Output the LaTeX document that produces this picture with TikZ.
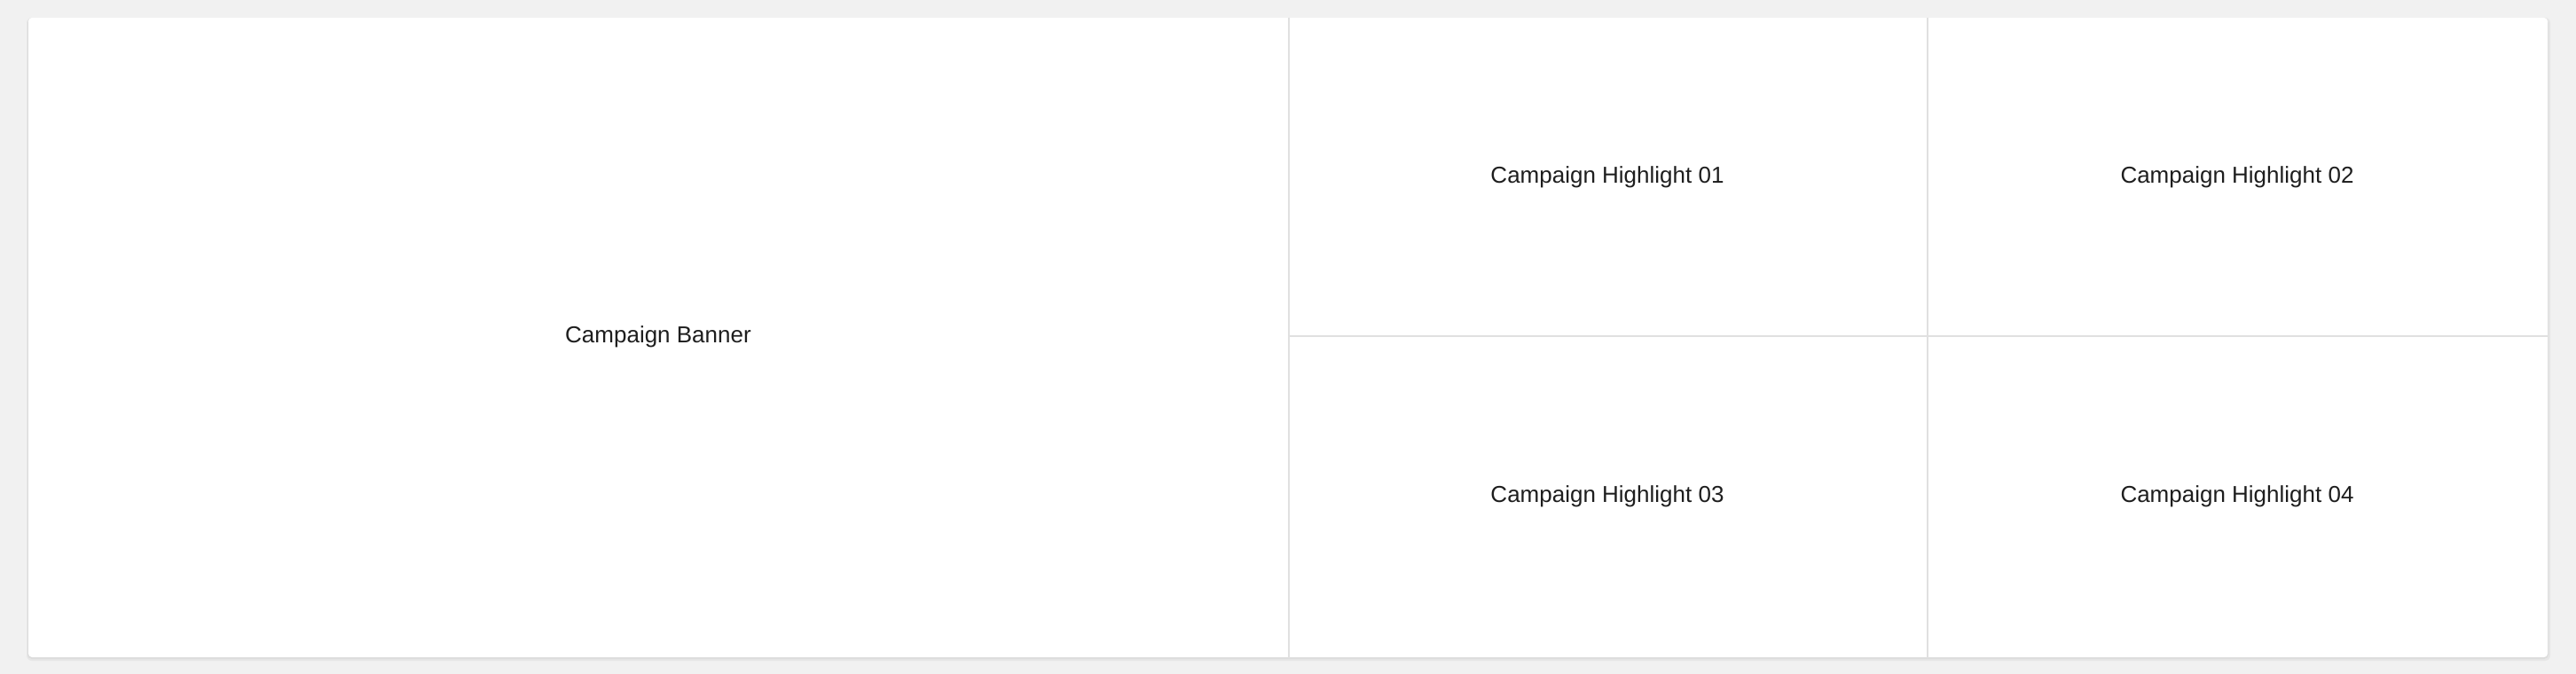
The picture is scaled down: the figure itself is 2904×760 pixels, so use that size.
\documentclass[tikz,border=0pt]{standalone}
\usepackage{fontspec}
\setmainfont{Liberation Sans}
\definecolor{pagebg}{HTML}{F1F1F1}
\definecolor{divider}{HTML}{E0E0E0}
\definecolor{txt}{HTML}{1E1E1E}
\definecolor{shadowA}{HTML}{E6E6E6}
\definecolor{shadowB}{HTML}{DCDCDC}
\begin{document}
\begin{tikzpicture}[x=1pt,y=-1pt,
  celltext/.style={font=\fontsize{26}{30}\selectfont, text=txt, inner sep=0pt, anchor=base},
  divline/.style={draw=divider, line width=2pt}]
\useasboundingbox[fill=pagebg] (0,0) rectangle (2904,760);
% shadow
\fill[shadowA, rounded corners=6pt] (30,20) rectangle (2875,745);
\fill[shadowB, rounded corners=5pt] (31,21) rectangle (2873,743);
% card
\fill[white, rounded corners=4pt] (32,20) rectangle (2872,741);
% dividers
\coordinate (v1t) at (1453,20);
\coordinate (v1b) at (1453,741);
\coordinate (v2t) at (2173,20);
\coordinate (v2b) at (2173,741);
\coordinate (hl) at (1453,379);
\coordinate (hr) at (2872,379);
\draw[divline] (v1t) -- (v1b);
\draw[divline] (v2t) -- (v2b);
\draw[divline] (hl) -- (hr);
% texts
\node[celltext] (banner) at (742,386) {Campaign Banner};
\node[celltext] (h1) at (1812,206) {Campaign Highlight 01};
\node[celltext] (h2) at (2522,206) {Campaign Highlight 02};
\node[celltext] (h3) at (1812,566) {Campaign Highlight 03};
\node[celltext] (h4) at (2522,566) {Campaign Highlight 04};
\end{tikzpicture}
\end{document}
